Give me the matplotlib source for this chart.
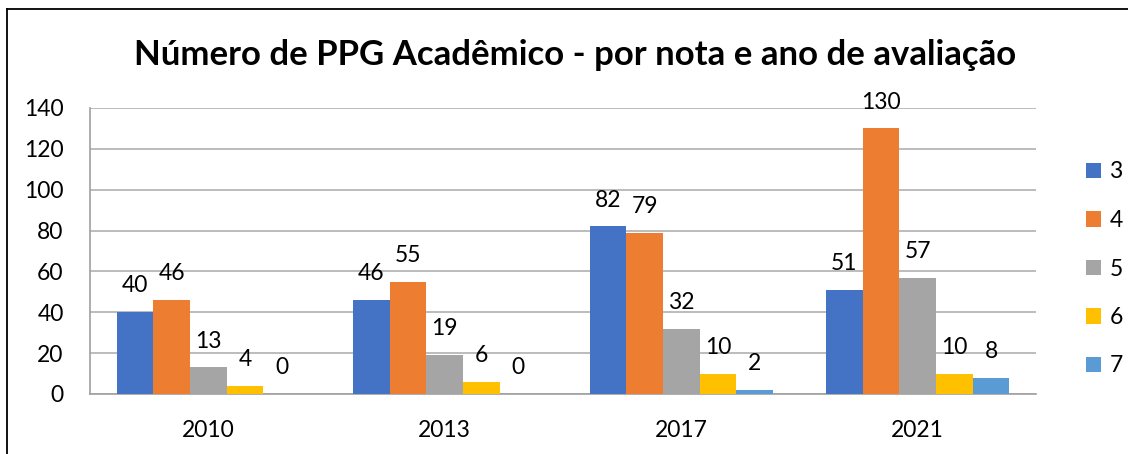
import numpy as np
import matplotlib
matplotlib.use('Agg')
import matplotlib.pyplot as plt
from matplotlib.lines import Line2D
from matplotlib.patches import Patch

plt.rcParams['font.family'] = ['Lato', 'DejaVu Sans']

years = ['2010', '2013', '2017', '2021']
notas = ['3', '4', '5', '6', '7']
nota3 = [40, 46, 82, 51]
nota4 = [46, 55, 79, 130]
nota5 = [13, 19, 32, 57]
nota6 = [4, 6, 10, 10]
nota7 = [0, 0, 2, 8]
series = [nota3, nota4, nota5, nota6, nota7]
colors = ['#4472C4', '#ED7D31', '#A5A5A5', '#FFC000', '#5B9BD5']

W, H = 1128, 454
fs = 16.5
fig = plt.figure(figsize=(W / 100, H / 100), dpi=100)
ax = fig.add_axes([90 / W, 1 - 394 / H, (1036 - 90) / W, (394 - 108) / H])

x = np.arange(len(years))
bw = 0.155
for i, (vals, c) in enumerate(zip(series, colors)):
    pos = x + (i - 2) * bw
    ax.bar(pos, vals, width=bw, color=c, zorder=3, label=notas[i])
    for p, v in zip(pos, vals):
        ax.annotate(str(v), (p, v), xytext=(0, 19), textcoords='offset points',
                    ha='center', va='center', fontsize=fs, color='#000000',
                    annotation_clip=False, zorder=4)

ax.set_xlim(-0.5, 3.5)
ax.set_ylim(0, 140)
ax.set_yticks(range(0, 141, 20))
ax.set_xticks(x)
ax.set_xticklabels(years)
ax.grid(axis='y', color='#B0B0B0', linewidth=1.2, zorder=0)
ax.tick_params(axis='both', length=0, labelsize=fs)
ax.tick_params(axis='y', pad=19)
ax.tick_params(axis='x', pad=19)
for s in ['top', 'right']:
    ax.spines[s].set_visible(False)
ax.spines['left'].set_color('#A0A0A0')
ax.spines['bottom'].set_color('#A0A0A0')
ax.spines['left'].set_linewidth(1.2)
ax.spines['bottom'].set_linewidth(1.2)

fig.text(575 / W, 1 - 55 / H, 'Número de PPG Acadêmico - por nota e ano de avaliação',
         ha='center', va='center', fontsize=25, fontweight='bold')

handles = [Patch(facecolor=c) for c in colors]
fig.legend(handles, notas, loc='center left', bbox_to_anchor=(1075 / W, 1 - 269 / H),
           frameon=False, fontsize=fs, handlelength=0.65, handleheight=0.65,
           handletextpad=0.35, labelspacing=1.2, borderpad=0)

# outer chart border (only top and left visible in the crop)
fig.add_artist(Line2D([7 / W, 7 / W], [0, 1 - 9 / H], transform=fig.transFigure,
                      color='black', linewidth=1.3))
fig.add_artist(Line2D([7 / W, 1], [1 - 9 / H, 1 - 9 / H], transform=fig.transFigure,
                      color='black', linewidth=1.3))

fig.savefig('out.png', dpi=100)
